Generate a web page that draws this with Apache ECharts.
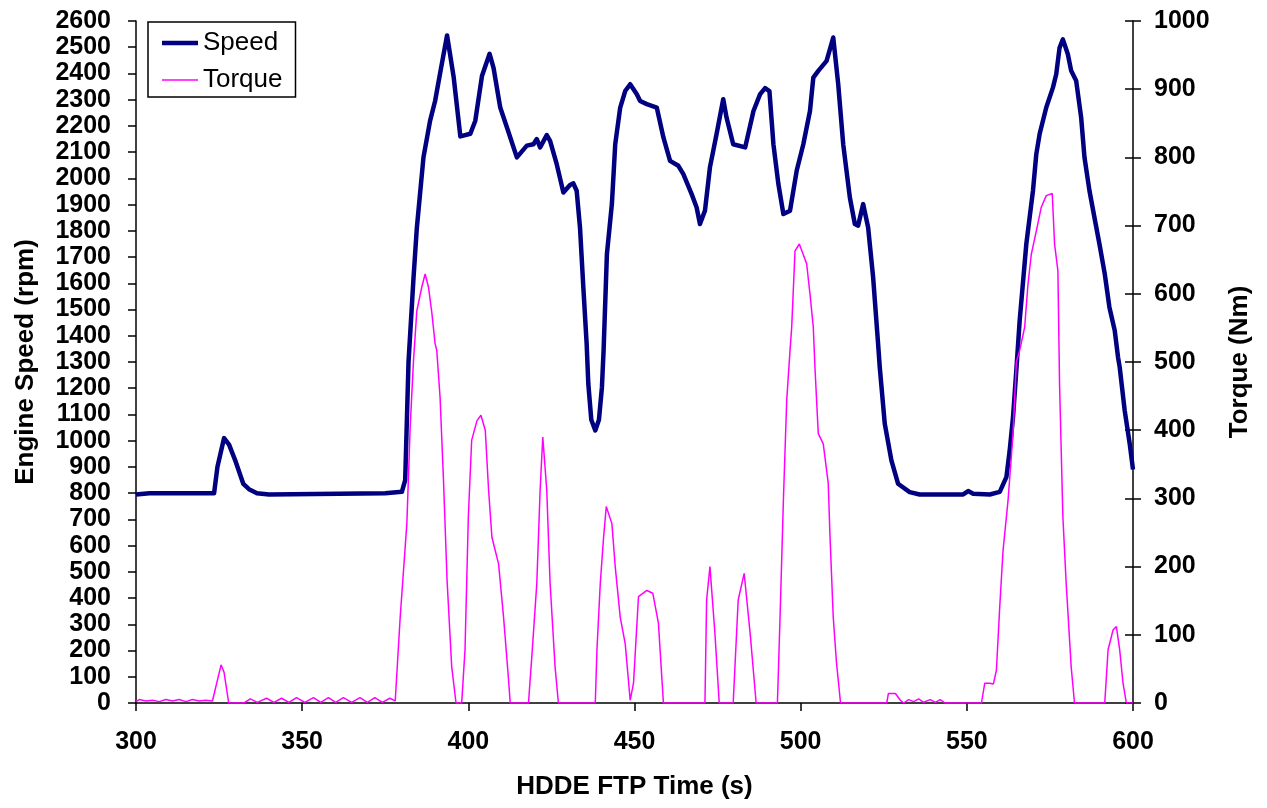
<!DOCTYPE html>
<html>
<head>
<meta charset="utf-8">
<script src="https://cdn.jsdelivr.net/npm/echarts@6/dist/echarts.min.js"></script>
<style>
html,body{margin:0;padding:0;background:#fff;}
#c{width:1267px;height:808px;}
</style>
</head>
<body>
<div id="c"></div>
<script>
// ---- Data ----
var speedTime = [300,304,323.5,324.5,326.5,328,330,332.3,334,336.4,340,375,380,381,382,383.5,384.5,386.5,388.5,390,391.5,393.6,395.6,397.6,400.6,402.1,404.1,406.4,407.6,409.6,411.6,414.6,417.6,419.6,420.6,421.6,423.6,424.6,426.6,428.6,430.6,431.6,432.6,433.6,434.6,435.6,436.1,437,438.2,439.3,440.2,440.7,441.7,443.2,444.2,445.7,447.2,448.7,450.7,451.7,453.7,456.7,458.7,460.7,463.2,464.7,467.2,468.7,469.7,471.2,472.7,474.7,476.7,477.7,479.7,483.3,485.8,487.8,489.3,490.6,491.8,493.3,494.8,496.8,498.8,500.8,502.8,503.8,505.3,507.8,509.8,511.3,512.8,514.8,516.3,517.3,518.8,520.3,521.8,523.3,523.8,525.3,527.3,529.3,532.8,535.8,548.9,550.4,551.9,556.9,559.9,561.9,562.9,563.9,564.9,565.9,567.9,569.9,570.9,571.9,573.9,575.9,576.9,577.9,578.9,580.4,581.4,582.9,584.4,585.4,586.9,588.4,589.9,591.5,592.9,594.5,595.5,596,597.5,599,600];
var speedRpm = [795,800,800,900,1010,985,920,835,815,800,795,800,805,850,1300,1620,1810,2080,2220,2295,2400,2545,2385,2160,2170,2220,2390,2475,2420,2270,2195,2080,2125,2130,2150,2118,2165,2143,2054,1946,1975,1981,1953,1813,1585,1370,1217,1080,1039,1080,1204,1344,1712,1903,2130,2270,2333,2359,2321,2295,2283,2270,2156,2067,2048,2016,1940,1889,1826,1877,2042,2169,2302,2232,2130,2118,2257,2321,2344,2333,2130,1978,1864,1877,2029,2130,2257,2384,2410,2448,2537,2359,2130,1927,1826,1820,1902,1813,1623,1369,1280,1065,925,836,804,795,795,808,798,795,805,861,963,1090,1270,1458,1750,1953,2092,2169,2270,2346,2397,2498,2530,2473,2410,2372,2232,2080,1953,1851,1750,1636,1509,1420,1318,1280,1115,989,890];

var torqueTime = [300,301,303,305,307,309,311,313,315,317,319,321,323,323.6,325.6,326.5,327.9,332.5,334.4,336.5,339.3,341.5,343.8,346,348.3,350.8,353.4,355.6,357.9,360.1,362.4,364.9,367.4,369.6,371.9,374.1,376.4,378,379.5,381.5,382.5,383.5,384.5,386,387,388,389,390,390.5,391.5,392.5,393.6,395,396.3,398,399,400,401,402.6,403.8,405.1,406.1,407.1,409.1,410.6,412.1,412.6,418.1,419.1,420.6,421.6,422.4,423.6,424.6,426.1,427.1,438.2,438.7,439.7,440.7,441.5,443.2,444.2,445.7,447.2,448.7,449.7,451.2,453.7,455.5,457.2,458.2,458.7,471.2,471.7,472.7,474.2,475.5,479.7,481.2,483,484.8,486.6,493,493.8,494.8,495.8,496.8,497.3,498.3,499.6,501.8,502.8,503.8,504.3,505.3,506.8,508.3,508.8,509.8,510.8,512,525.9,526.4,528.5,530,531,532.5,534,535.5,537,539,540.5,542,543.4,554.4,555.4,556.9,558,558.9,559.9,560.9,562.4,563.9,564.9,565.9,567.4,568.4,569.4,570.9,572.4,573.9,575.7,576.4,577.4,577.9,578.9,579.9,581.4,582.4,591.5,592.5,594,595,596,597,598,600];
var torqueNm = [2,5,3,4,2,5,3,5,2,5,3,4,3,5,56,45,0,0,6,1,7,1,7,1,8,1,8,1,8,1,8,1,8,1,8,1,7,3,126,263,405,502,575,610,629,610,573,527,517,448,330,180,53,0,0,78,273,385,414,422,400,312,243,204,126,34,0,0,68,175,312,390,312,176,53,0,0,78,175,243,288,263,200,126,87,4,29,156,165,161,117,39,0,0,151,200,102,0,0,151,190,102,0,0,126,297,444,517,551,663,673,644,600,551,492,395,380,322,248,126,58,0,0,14,14,4,0,5,2,6,1,5,1,5,0,0,29,29,28,48,141,224,297,395,500,517,551,614,658,692,727,744,747,673,634,468,273,175,53,0,0,78,107,112,78,29,0,0];

var xTicks = {min: 300, max: 600, interval: 50};
var speedTicks = {min: 0, max: 2600, interval: 100};
var torqueTicks = {min: 0, max: 1000, interval: 100};

function zip(a, b) { return a.map(function (v, i) { return [v, b[i]]; }); }
function plain(v) { return String(v); }

var chart = echarts.init(document.getElementById('c'), null, {renderer: 'canvas'});
var axisFont = {fontFamily: 'Liberation Sans', fontWeight: 'bold', fontSize: 25, color: '#000', formatter: plain};
var titleFont = {fontFamily: 'Liberation Sans', fontWeight: 'bold', fontSize: 26, color: '#000'};

chart.setOption({
  backgroundColor: '#ffffff',
  animation: false,
  grid: {left: 136, right: 134, top: 21, bottom: 105},
  legend: {
    orient: 'vertical',
    left: 148, top: 22,
    padding: [8, 13, 4, 14],
    itemGap: 11,
    itemWidth: 36,
    itemHeight: 26,
    symbolKeepAspect: true,
    borderColor: '#000', borderWidth: 1.5,
    backgroundColor: '#fff',
    textStyle: {fontFamily: 'Liberation Sans', fontSize: 26, color: '#000'},
    data: [
      {name: 'Speed', icon: 'path://M0,0H36V4.5H0Z', itemStyle: {color: '#000080'}},
      {name: 'Torque', icon: 'path://M0,0H36V1.5H0Z', itemStyle: {color: '#ff00ff'}}
    ]
  },
  xAxis: {
    type: 'value', min: xTicks.min, max: xTicks.max, interval: xTicks.interval,
    name: 'HDDE FTP Time (s)', nameLocation: 'middle', nameGap: 71,
    nameTextStyle: titleFont,
    axisLine: {show: true, onZero: false, lineStyle: {color: '#000', width: 1.5}},
    axisTick: {show: true, inside: false, length: 8, lineStyle: {color: '#000', width: 1.5}},
    axisLabel: Object.assign({margin: 27}, axisFont),
    splitLine: {show: false}
  },
  yAxis: [{
    type: 'value', position: 'left', min: speedTicks.min, max: speedTicks.max, interval: speedTicks.interval,
    name: 'Engine Speed (rpm)', nameLocation: 'middle', nameGap: 97, nameRotate: 90,
    nameTextStyle: titleFont,
    axisLine: {show: true, lineStyle: {color: '#000', width: 1.5}},
    axisTick: {show: true, inside: false, length: 8, lineStyle: {color: '#000', width: 1.5}},
    axisLabel: Object.assign({margin: 25}, axisFont),
    splitLine: {show: false}
  }, {
    type: 'value', position: 'right', min: torqueTicks.min, max: torqueTicks.max, interval: torqueTicks.interval,
    name: 'Torque (Nm)', nameLocation: 'middle', nameGap: 94, nameRotate: 90,
    nameTextStyle: titleFont,
    axisLine: {show: true, lineStyle: {color: '#000', width: 1.5}},
    axisTick: {show: true, inside: false, length: 8, lineStyle: {color: '#000', width: 1.5}},
    axisLabel: Object.assign({margin: 21}, axisFont),
    splitLine: {show: false}
  }, {
    type: 'value', position: 'right', min: torqueTicks.min, max: torqueTicks.max, interval: torqueTicks.interval,
    axisLine: {show: false},
    axisTick: {show: true, inside: true, length: 8, lineStyle: {color: '#000', width: 1.5}},
    axisLabel: {show: false},
    splitLine: {show: false}
  }],
  series: [{
    name: 'Speed', type: 'line', yAxisIndex: 0,
    data: zip(speedTime, speedRpm),
    showSymbol: false, symbol: 'none',
    lineStyle: {color: '#000080', width: 4.5, join: 'round'},
    itemStyle: {color: '#000080'},
    z: 2
  }, {
    name: 'Torque', type: 'line', yAxisIndex: 1,
    data: zip(torqueTime, torqueNm),
    showSymbol: false, symbol: 'none',
    lineStyle: {color: '#ff00ff', width: 1.5},
    itemStyle: {color: '#ff00ff'},
    z: 3
  }]
});
</script>
</body>
</html>
